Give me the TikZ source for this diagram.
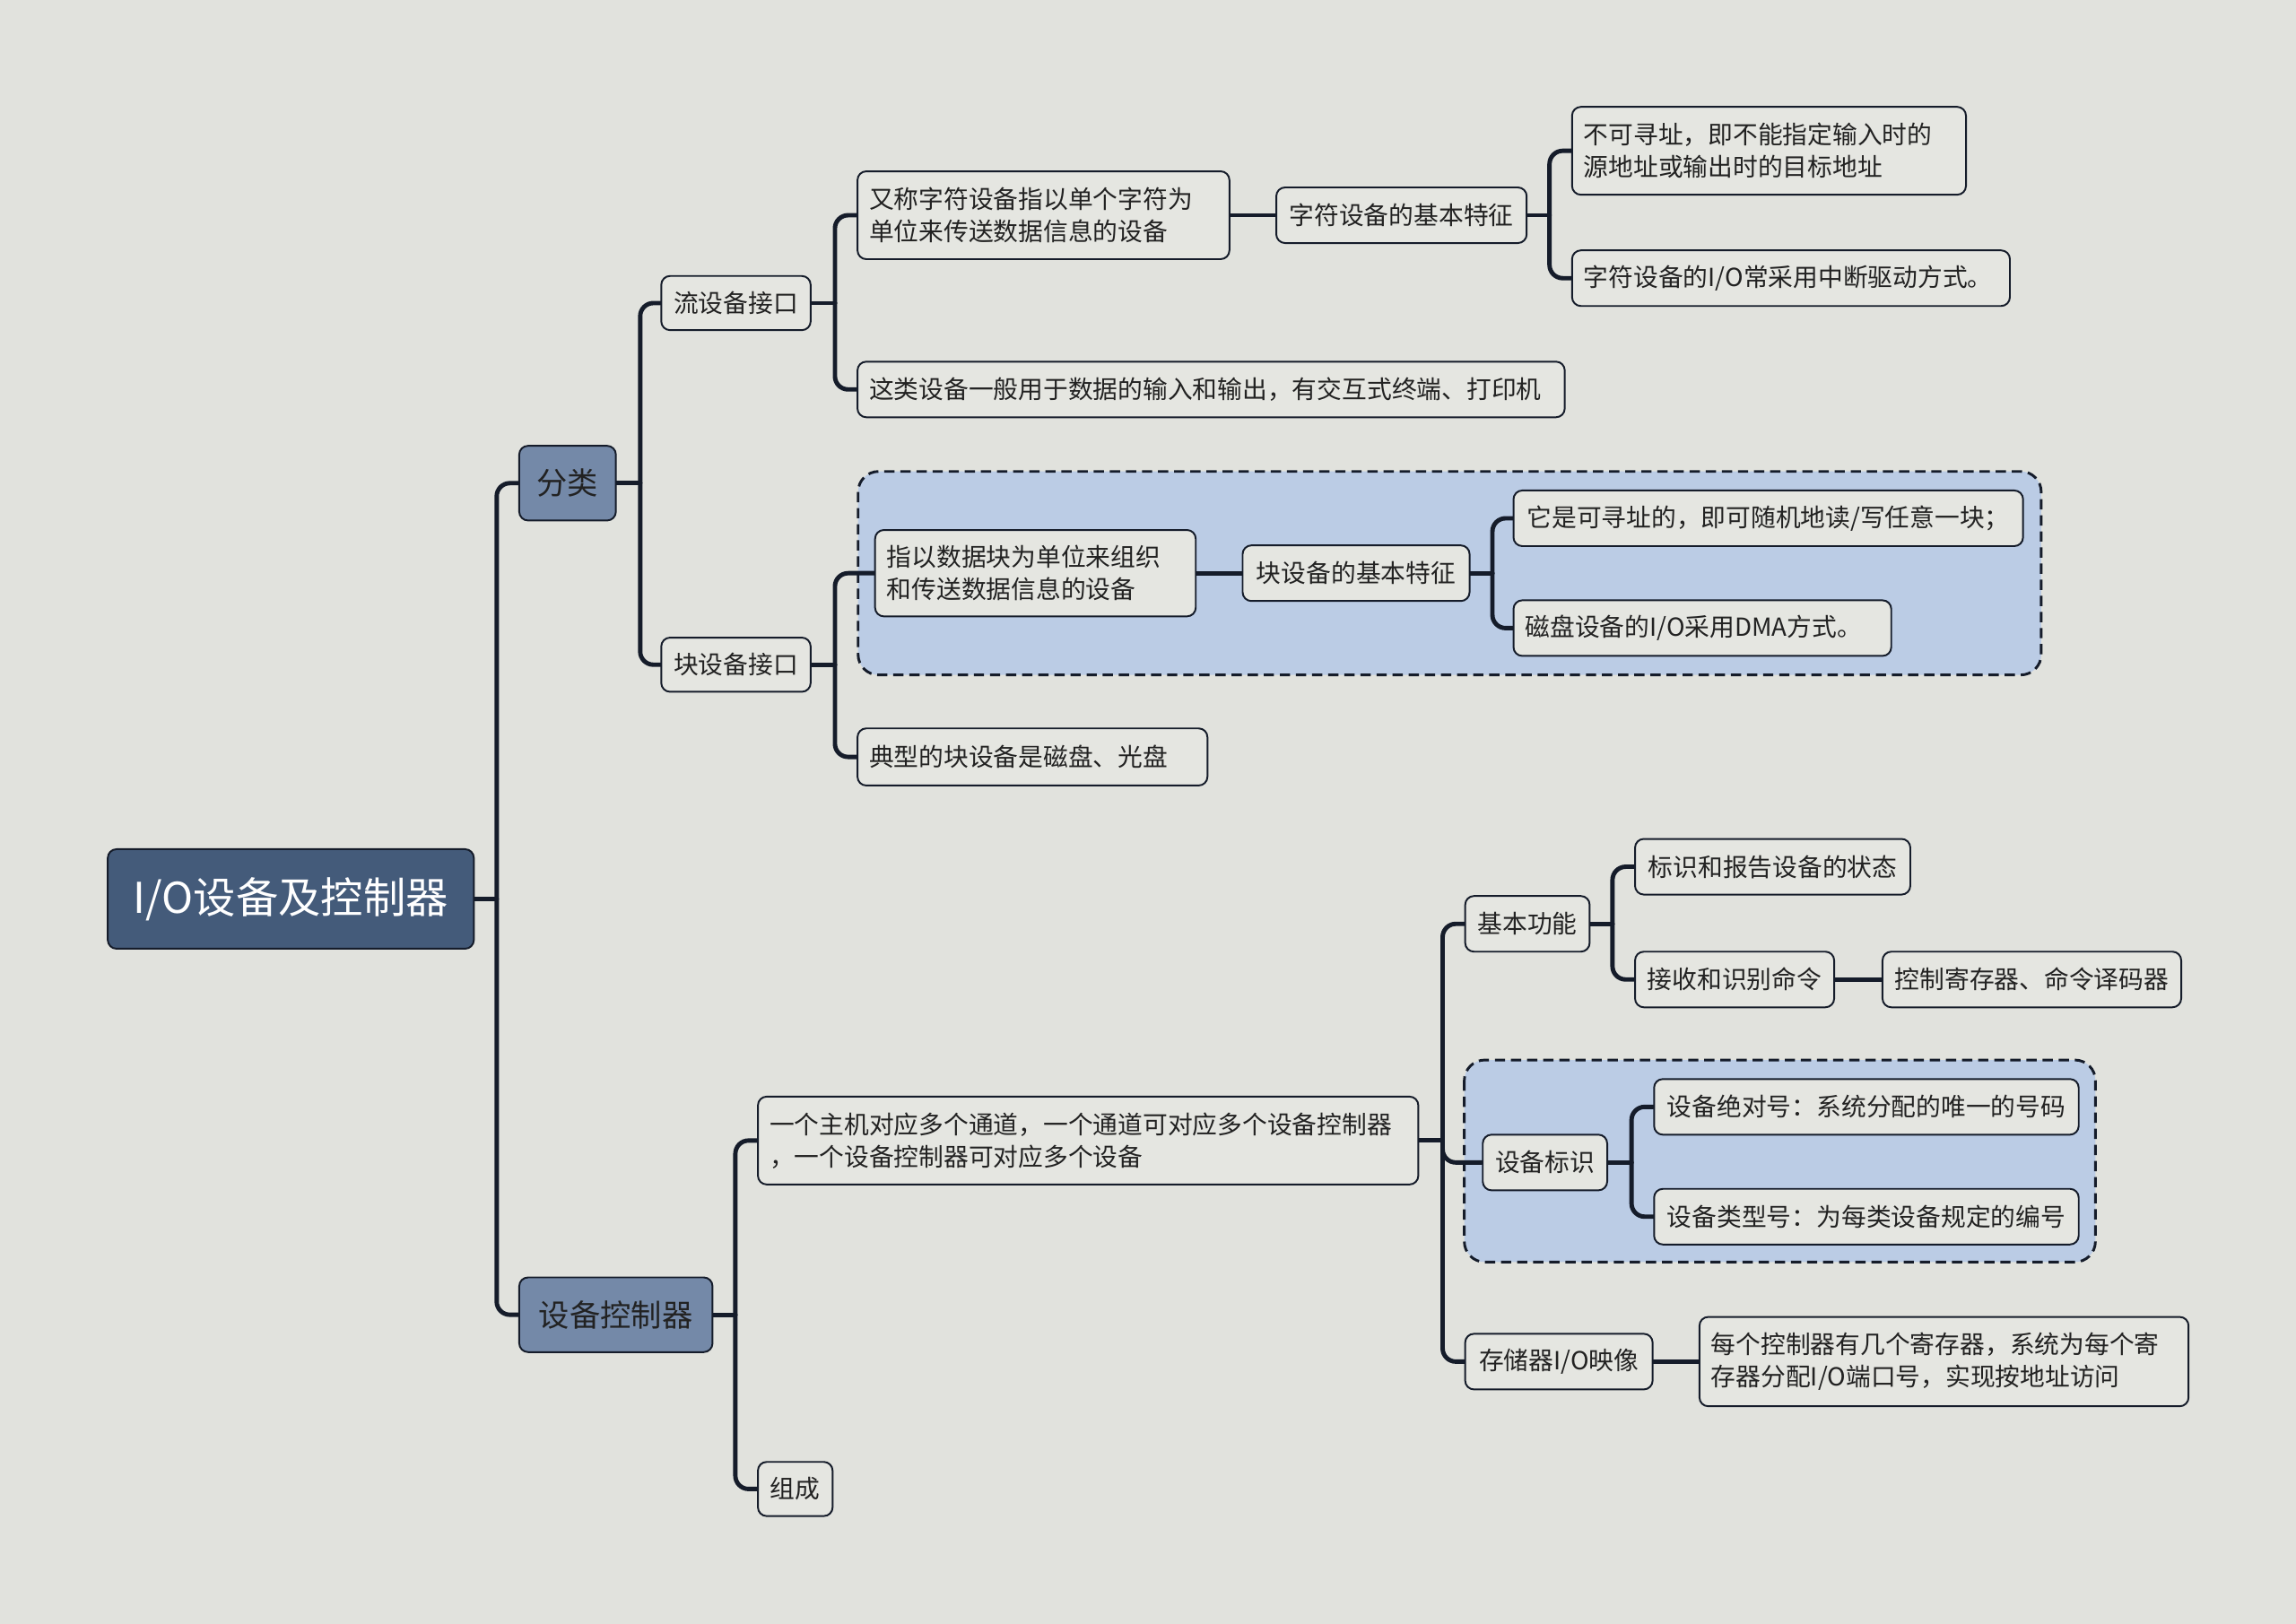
\documentclass[tikz,border=0pt]{standalone}
\usepackage{fontspec}
\newfontfamily\cjk{Noto Sans CJK SC}
\definecolor{bgc}{HTML}{E1E2DD}
\definecolor{nodec}{HTML}{E5E6E1}
\definecolor{rootc}{HTML}{445B7A}
\definecolor{lonec}{HTML}{7489A8}
\definecolor{grpc}{HTML}{BBCCE5}
\definecolor{linec}{HTML}{151C2A}
\definecolor{txtc}{HTML}{222222}
\pgfdeclarelayer{bgzero}
\pgfdeclarelayer{bgone}
\pgfsetlayers{bgzero,bgone,main}
\tikzset{
  box/.style={draw=linec, line width=1.2pt, rounded corners=6pt, fill=nodec, text=txtc,
    anchor=west, inner xsep=8pt, inner ysep=3pt, minimum height=38pt,
    font=\cjk\fontsize{17}{22}\selectfont, align=left},
  rootbox/.style={box, fill=rootc, text=white, font=\cjk\fontsize{29}{34}\selectfont,
    minimum height=68pt, align=center},
  lonebox/.style={box, fill=lonec, text=txtc, font=\cjk\fontsize{21}{26}\selectfont,
    minimum height=51pt, align=center},
  conn/.style={draw=linec, line width=3pt, rounded corners=9pt, line cap=round},
  grp/.style={draw=linec, fill=grpc, line width=1.8pt, dash pattern=on 7pt off 4pt, rounded corners=14pt},
}
\begin{document}
\begin{tikzpicture}[x=1pt,y=-1pt]
\begin{pgfonlayer}{bgzero}
\fill[bgc] (0,0) rectangle (1568,1109);
\end{pgfonlayer}
\useasboundingbox (0,0) rectangle (1568,1109);

% groups
\begin{pgfonlayer}{bgzero}
\path[grp] (586,322) rectangle (1394,461);
\path[grp] (1000,724) rectangle (1431,862);
\end{pgfonlayer}

% nodes
\node[rootbox, minimum width=250pt] (root) at (73,614) {I/O设备及控制器};
\node[lonebox, minimum width=66pt] (fl) at (354,330) {分类};
\node[lonebox, minimum width=132pt] (kz) at (354,898) {设备控制器};

\node[box, minimum width=102pt, minimum height=37pt] (liu) at (451,207) {流设备接口};
\node[box, minimum width=102pt, minimum height=37pt] (kuai) at (451,454) {块设备接口};

\node[box, text width=238pt, minimum height=60pt] (yc) at (585,147) {又称字符设备指以单个字符为\\单位来传送数据信息的设备};
\node[box, text width=467pt] (zl) at (585,266) {这类设备一般用于数据的输入和输出，有交互式终端、打印机};
\node[box, minimum width=171pt] (zf) at (871,147) {字符设备的基本特征};
\node[box, text width=253pt, minimum height=60pt] (bk) at (1073,103) {不可寻址，即不能指定输入时的\\源地址或输出时的目标地址};
\node[box, text width=283pt] (zi) at (1073,190) {字符设备的I/O常采用中断驱动方式。};

\node[box, text width=203pt, minimum height=59pt] (zy) at (597,391.5) {指以数据块为单位来组织\\和传送数据信息的设备};
\node[box, minimum width=155pt] (kt) at (848,391.5) {块设备的基本特征};
\node[box, minimum width=348pt] (ts) at (1033,354) {它是可寻址的，即可随机地读/写任意一块；};
\node[box, text width=242pt] (cp) at (1033,429) {磁盘设备的I/O采用DMA方式。};
\node[box, text width=223pt, minimum height=39pt] (dx) at (585,517) {典型的块设备是磁盘、光盘};

\node[box, text width=435pt, minimum height=60pt] (yg) at (517,779) {一个主机对应多个通道，一个通道可对应多个设备控制器\\，一个设备控制器可对应多个设备};
\node[box, minimum width=51pt, minimum height=37pt] (zc) at (517,1017) {组成};

\node[box, minimum width=85pt] (jb) at (1000,631) {基本功能};
\node[box, minimum width=188pt] (bs) at (1116,592) {标识和报告设备的状态};
\node[box, minimum width=136pt] (js) at (1116,669) {接收和识别命令};
\node[box, minimum width=204pt] (kc) at (1285,669) {控制寄存器、命令译码器};

\node[box, minimum width=85pt] (sb) at (1012,794) {设备标识};
\node[box, minimum width=290pt] (jd) at (1129,756) {设备绝对号：系统分配的唯一的号码};
\node[box, minimum width=290pt] (lx) at (1129,831) {设备类型号：为每类设备规定的编号};

\node[box, minimum width=128pt] (cc) at (1000,930) {存储器I/O映像};
\node[box, text width=318pt, minimum height=61pt] (mg) at (1160,930) {每个控制器有几个寄存器，系统为每个寄\\存器分配I/O端口号，实现按地址访问};

% trunk junctions
\path (root.east) ++(15,0) coordinate (t0);
\path (fl.east) ++(16,0) coordinate (t1);
\path (liu.east) ++(16,0) coordinate (t2);
\path (zf.east) ++(15,0) coordinate (t3);
\path (kuai.east) ++(16,0) coordinate (t4);
\path (kt.east) ++(15,0) coordinate (t5);
\path (kz.east) ++(15,0) coordinate (t6);
\path (yg.east) ++(16,0) coordinate (t7);
\path (jb.east) ++(15,0) coordinate (t8);
\path (sb.east) ++(16,0) coordinate (t9);

\begin{pgfonlayer}{bgone}
\draw[conn] (root.east) -- (t0);
\draw[conn] (t0) |- (fl.west);
\draw[conn] (t0) |- (kz.west);

\draw[conn] (fl.east) -- (t1);
\draw[conn] (t1) |- (liu.west);
\draw[conn] (t1) |- (kuai.west);

\draw[conn] (liu.east) -- (t2);
\draw[conn] (t2) |- (yc.west);
\draw[conn] (t2) |- (zl.west);
\draw[conn] (yc.east) -- (zf.west);
\draw[conn] (zf.east) -- (t3);
\draw[conn] (t3) |- (bk.west);
\draw[conn] (t3) |- (zi.west);

\draw[conn] (kuai.east) -- (t4);
\draw[conn] (t4) |- (zy.west);
\draw[conn] (t4) |- (dx.west);
\draw[conn] (zy.east) -- (kt.west);
\draw[conn] (kt.east) -- (t5);
\draw[conn] (t5) |- (ts.west);
\draw[conn] (t5) |- (cp.west);

\draw[conn] (kz.east) -- (t6);
\draw[conn] (t6) |- (yg.west);
\draw[conn] (t6) |- (zc.west);

\draw[conn] (yg.east) -- (t7);
\draw[conn] (t7) |- (jb.west);
\draw[conn] (t7) |- (sb.west);
\draw[conn] (t7) |- (cc.west);

\draw[conn] (jb.east) -- (t8);
\draw[conn] (t8) |- (bs.west);
\draw[conn] (t8) |- (js.west);
\draw[conn] (js.east) -- (kc.west);

\draw[conn] (sb.east) -- (t9);
\draw[conn] (t9) |- (jd.west);
\draw[conn] (t9) |- (lx.west);

\draw[conn] (cc.east) -- (mg.west);
\end{pgfonlayer}
\end{tikzpicture}
\end{document}
